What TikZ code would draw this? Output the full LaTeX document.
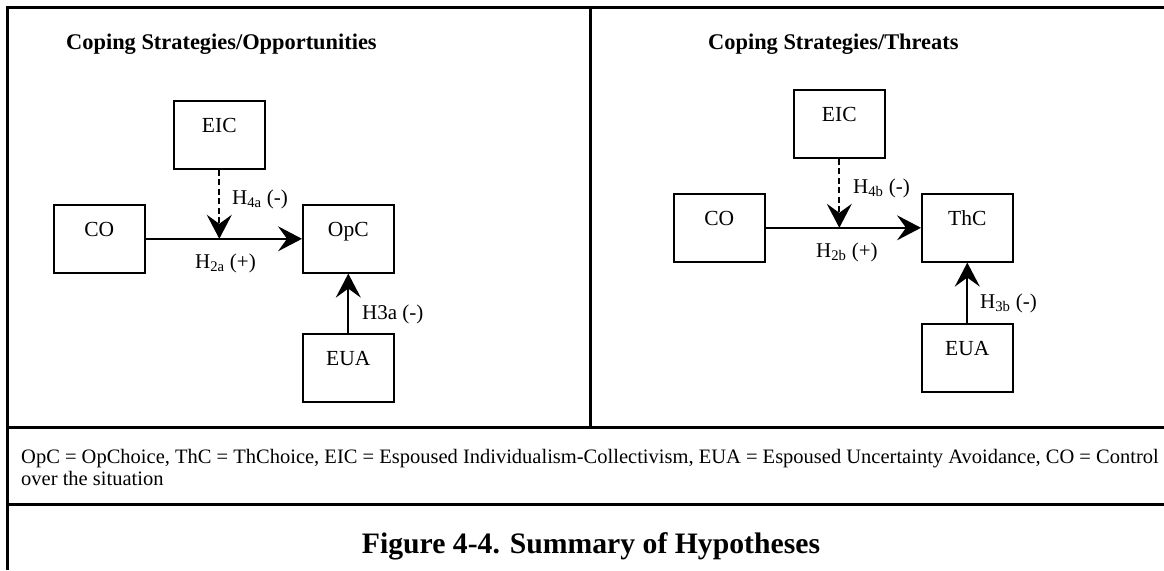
\documentclass[tikz,border=0pt]{standalone}
\usepackage{fontspec}
\setmainfont{Liberation Serif}
\usetikzlibrary{arrows.meta,calc}

\begin{document}
\begin{tikzpicture}[x=1pt,y=-1pt,
  frame/.style={line width=3pt},
  varbox/.style={draw,line width=1.6pt,minimum width=91pt,minimum height=68pt,
    inner sep=0pt,anchor=north west},
  boxtext/.style={anchor=base,inner sep=0pt,font=\fontsize{21.5}{24}\selectfont},
  hyplabel/.style={anchor=base west,inner sep=0pt,font=\fontsize{21}{24}\selectfont},
  paneltitle/.style={anchor=base west,inner sep=0pt,font=\bfseries\fontsize{22.4}{26}\selectfont},
  legendtext/.style={anchor=base west,inner sep=0pt,font=\fontsize{20.5}{22}\selectfont},
  conn/.style={line width=1.8pt,-{Stealth[length=24pt,width=25pt,inset=9pt]}},
  modconn/.style={conn,dash pattern=on 6pt off 3.5pt},
]
\useasboundingbox (0,0) rectangle (1164,570);

% outer frame and table rules
\draw[frame] (1164,7) -- (7,7) -- (7,570);
\draw[frame] (590,7) -- (590,427);
\draw[frame] (7,427) -- (1164,427);
\draw[frame] (7,504) -- (1164,504);

% ---- left panel: opportunities ----
\node[paneltitle] (titleA) at (66,49) {Coping Strategies/Opportunities};

\node[varbox] (EICa) at (173,100) {};
\node[varbox] (COa)  at (53,204)  {};
\node[varbox] (OpCa) at (302,204) {};
\node[varbox] (EUAa) at (302,333) {};

\node[boxtext] (tEICa) at ([yshift=-32pt]EICa.north) {EIC};
\node[boxtext] (tCOa)  at ([yshift=-32pt]COa.north)  {CO};
\node[boxtext] (tOpCa) at ([yshift=-32pt]OpCa.north) {OpC};
\node[boxtext] (tEUAa) at ([yshift=-32pt]EUAa.north) {EUA};

\coordinate (Ja) at (EICa.south |- COa.east);
\draw[conn] (COa.east) -- (OpCa.west);
\draw[modconn] (EICa.south) -- (Ja);
\draw[conn] (EUAa.north) -- (OpCa.south);

\node[hyplabel] (h4a) at (232,204) {H\textsubscript{4a} (-)};
\node[hyplabel] (h2a) at (195,268) {H\textsubscript{2a} (+)};
\node[hyplabel] (h3a) at (362,319) {H3a (-)};

% ---- right panel: threats ----
\node[paneltitle] (titleB) at (708,49) {Coping Strategies/Threats};

\node[varbox] (EICb) at (793,89)  {};
\node[varbox] (COb)  at (673,193) {};
\node[varbox] (ThCb) at (921,193) {};
\node[varbox] (EUAb) at (921,323) {};

\node[boxtext] (tEICb) at ([yshift=-32pt]EICb.north) {EIC};
\node[boxtext] (tCOb)  at ([yshift=-32pt]COb.north)  {CO};
\node[boxtext] (tThCb) at ([yshift=-32pt]ThCb.north) {ThC};
\node[boxtext] (tEUAb) at ([yshift=-32pt]EUAb.north) {EUA};

\coordinate (Jb) at (EICb.south |- COb.east);
\draw[conn] (COb.east) -- (ThCb.west);
\draw[modconn] (EICb.south) -- (Jb);
\draw[conn] (EUAb.north) -- (ThCb.south);

\node[hyplabel] (h4b) at (853,193) {H\textsubscript{4b} (-)};
\node[hyplabel] (h2b) at (816,257) {H\textsubscript{2b} (+)};
\node[hyplabel] (h3b) at (980,308) {H\textsubscript{3b} (-)};

% ---- legend and caption ----
\node[legendtext] (legend1) at (21,463) {OpC = OpChoice, ThC = ThChoice, EIC = Espoused Individualism-Collectivism, EUA = Espoused Uncertainty Avoidance, CO = Control};
\node[legendtext] (legend2) at (21,485) {over the situation};

\node[anchor=base,inner sep=0pt,font=\bfseries\fontsize{29.7}{34}\selectfont] (caption) at (591,553) {Figure 4-4. Summary of Hypotheses};
\end{tikzpicture}
\end{document}
